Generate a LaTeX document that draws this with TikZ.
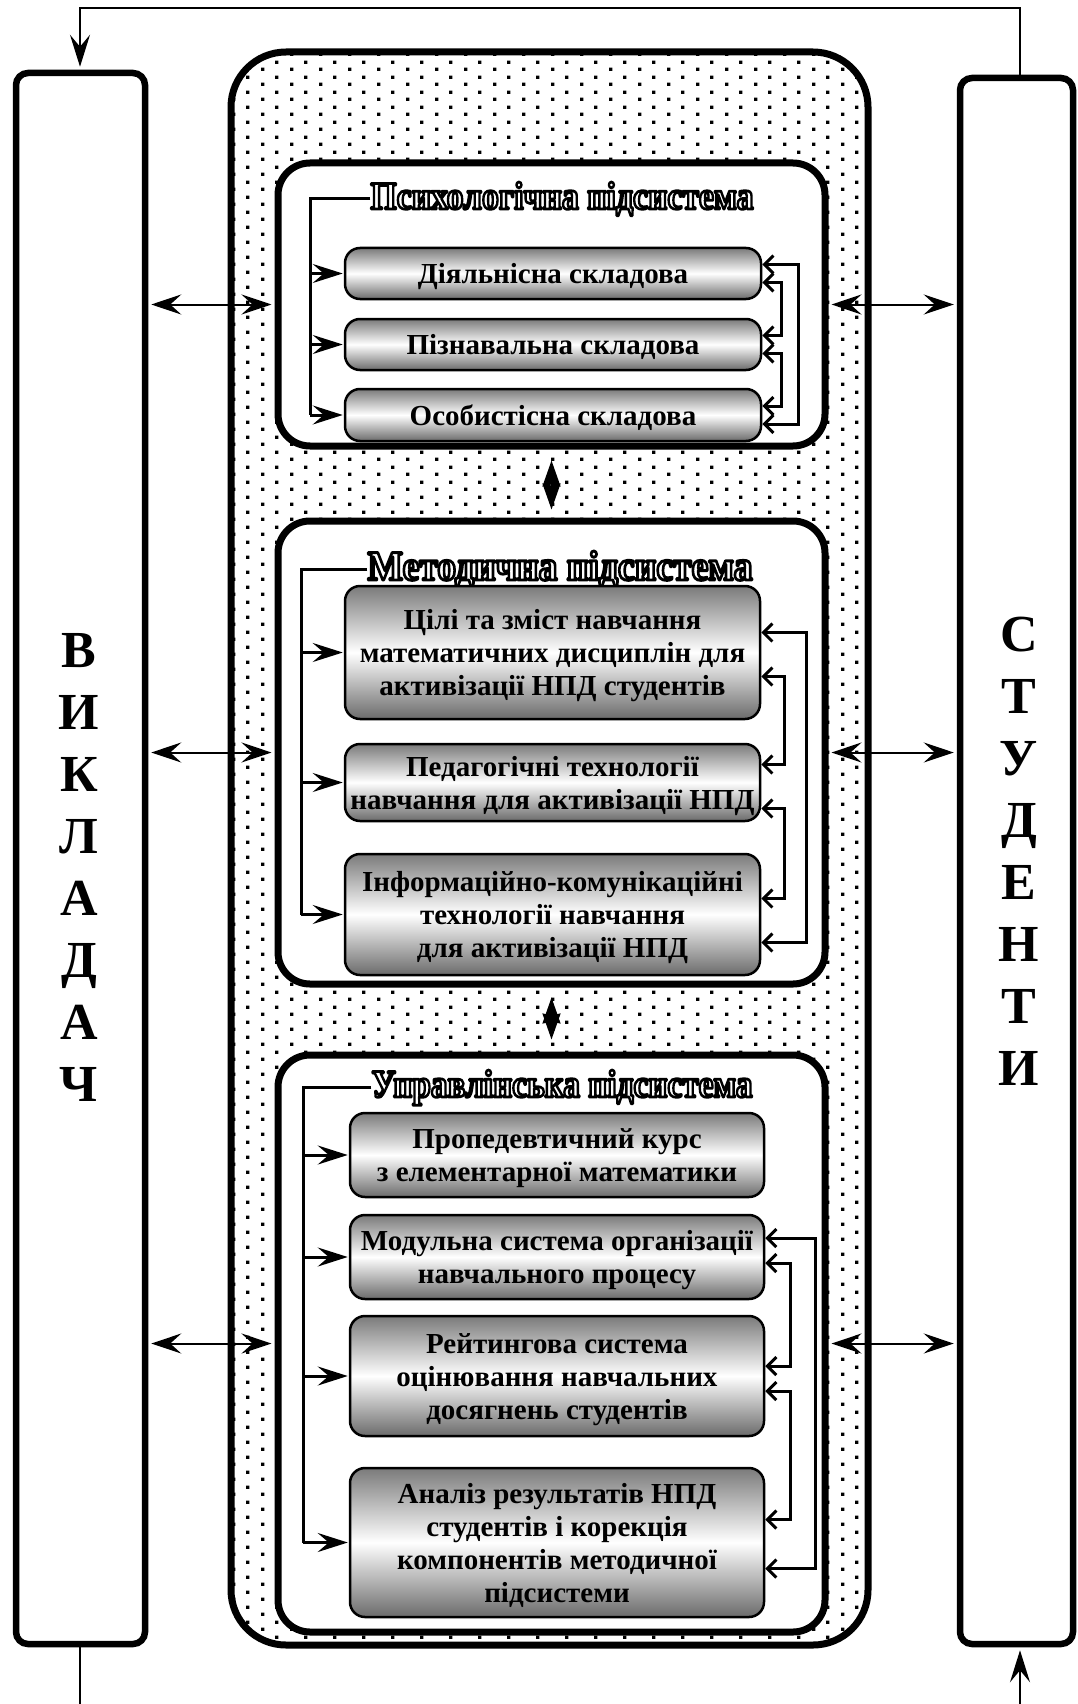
\documentclass[tikz,border=0pt]{standalone}
\usepackage{fontspec}
\setmainfont{Liberation Serif}
\usetikzlibrary{arrows.meta,patterns,calc}

% staggered grid of small square dots
\pgfdeclarepatternformonly{stagdots}{\pgfqpoint{0pt}{0pt}}{\pgfqpoint{29pt}{14.5pt}}{\pgfqpoint{29pt}{14.5pt}}{%
  \pgfpathrectangle{\pgfqpoint{0pt}{0pt}}{\pgfqpoint{3.4pt}{3.6pt}}%
  \pgfpathrectangle{\pgfqpoint{14.5pt}{7.25pt}}{\pgfqpoint{3.4pt}{3.6pt}}%
  \pgfusepath{fill}}

% outlined lettering: white fill, black stroke
\newcommand\hollowtext[1]{{\color{white}%
  \special{pdf:literal direct 0 G 2 Tr 2.8 w 1 j}#1\special{pdf:literal direct 0 Tr}}}

\begin{document}
\begin{tikzpicture}[x=1pt,y=-1pt,
  tall/.style={draw, line width=6.5pt, rounded corners=12pt, inner sep=0pt},
  core/.style={draw, line width=7pt, rounded corners=55pt, pattern=stagdots, inner sep=0pt},
  frame/.style={draw, fill=white, line width=7pt, rounded corners=32pt, inner sep=0pt},
  cell/.style={draw, line width=2.5pt, rounded corners=15pt,
    top color=black!52, bottom color=black!58, middle color=white,
    inner sep=0pt, align=center, text depth=0pt, font=\fontsize{29}{33}\selectfont\bfseries},
  letters/.style={inner sep=0pt, align=center, font=\fontsize{52}{62}\selectfont\bfseries},
  heading/.style={inner sep=0pt, anchor=base, font=\fontsize{40}{44}\selectfont\bfseries},
  dbl/.style={line width=2pt,
    {Stealth[length=30pt,width=20pt,inset=11pt]}-{Stealth[length=30pt,width=20pt,inset=11pt]},
    shorten <=3pt, shorten >=3pt},
  brk/.style={line width=3pt},
  brkarrow/.style={line width=3pt, -{Stealth[length=30pt,width=19pt,inset=11pt]}, shorten >=1pt},
  fb/.style={line width=3pt,
    {Straight Barb[length=9pt,width=18pt]}-{Straight Barb[length=9pt,width=18pt]}},
  diam/.style={line width=2pt,
    {Stealth[length=26pt,width=18pt,inset=2pt]}-{Stealth[length=26pt,width=18pt,inset=2pt]}},
  loopline/.style={line width=2pt},
  looptip/.style={-{Stealth[length=32pt,width=20pt,inset=12pt]}}
]
\useasboundingbox (0,0) rectangle (1078,1704);

% side columns
\node[tall, minimum width=129pt, minimum height=1571pt] (teach) at (80.5,858.5) {};
\node[tall, minimum width=113pt, minimum height=1566pt] (stud) at (1016.5,861) {};
\node[letters] (teachtxt) at (79,867) {В\\И\\К\\Л\\А\\Д\\А\\Ч};
\node[letters] (studtxt) at (1019,851) {С\\Т\\У\\Д\\Е\\Н\\Т\\И};

% central dotted block and its three subsystems
\node[core, minimum width=637pt, minimum height=1593pt] (core) at (549.5,848.5) {};
\node[frame, minimum width=547pt, minimum height=283pt] (psych) at (551.5,304.5) {};
\node[frame, minimum width=547pt, minimum height=463pt] (meth) at (551.5,752.5) {};
\node[frame, minimum width=547pt, minimum height=577pt] (mgmt) at (551.5,1343.5) {};

% headings
\node[heading] (ptitle) at (562,209) {\resizebox{383pt}{27pt}{\hollowtext{Психологічна підсистема}}};
\node[heading] (mtitle) at (560,580) {\resizebox{385pt}{29pt}{\hollowtext{Методична підсистема}}};
\node[heading] (gtitle) at (562,1097) {\resizebox{381pt}{27pt}{\hollowtext{Управлінська підсистема}}};

% psychological components
\node[cell, minimum width=416pt, minimum height=51pt] (pb1) at (553,273.5) {Діяльнісна складова};
\node[cell, minimum width=416pt, minimum height=51pt] (pb2) at (553,344.5) {Пізнавальна складова};
\node[cell, minimum width=416pt, minimum height=52pt] (pb3) at (553,415) {Особистісна складова};

% methodical components
\node[cell, minimum width=415pt, minimum height=133pt] (mb1) at (552.5,652.5)
  {Цілі та зміст навчання\\математичних дисциплін для\\активізації НПД студентів};
\node[cell, minimum width=415pt, minimum height=77pt] (mb2) at (552.5,782.5)
  {Педагогічні технології\\навчання для активізації НПД};
\node[cell, minimum width=415pt, minimum height=121pt] (mb3) at (552.5,914.5)
  {Інформаційно-комунікаційні\\технології навчання\\для активізації НПД};

% management components
\node[cell, minimum width=414pt, minimum height=84pt] (gb1) at (557,1155)
  {Пропедевтичний курс\\з елементарної математики};
\node[cell, minimum width=414pt, minimum height=84pt] (gb2) at (557,1257)
  {Модульна система організації\\навчального процесу};
\node[cell, minimum width=414pt, minimum height=120pt] (gb3) at (557,1376)
  {Рейтингова система\\оцінювання навчальних\\досягнень студентів};
\node[cell, minimum width=414pt, minimum height=149pt] (gb4) at (557,1542.5)
  {Аналіз результатів НПД\\студентів і корекція\\компонентів методичної\\підсистеми};

% helper coordinates
\coordinate (lx) at (80,0);
\coordinate (rx) at (1020,0);
\coordinate (topy) at (0,8);
\coordinate (boty) at (0,1704);
\coordinate (pbx) at (310,0);
\coordinate (mbx) at (301,0);
\coordinate (gbx) at (303,0);

% teacher / students links
\foreach \s in {psych,meth,mgmt}{
  \draw[dbl] (teach.east |- \s.west) -- (\s.west);
  \draw[dbl] (\s.east) -- (stud.west |- \s.east);
}

% links between subsystems
\draw[diam, shorten <=11pt, shorten >=8pt] (psych.south) -- (meth.north);
\draw[diam, shorten <=10pt, shorten >=12pt] (meth.south) -- (mgmt.north);

% outer feedback loop
\draw[loopline, looptip, shorten >=3pt] (rx |- stud.north) |- (lx |- topy) -- (lx |- teach.north);
\draw[loopline] (lx |- teach.south) -- (lx |- boty);
\draw[loopline, looptip, shorten >=3pt] (rx |- boty) -- (rx |- stud.south);

% left-hand distribution brackets
\draw[brk] (ptitle.west) -| (pbx |- pb3.west);
\foreach \b in {pb1,pb2,pb3} \draw[brkarrow] (pbx |- \b.west) -- (\b.west);
\draw[brk] (mtitle.west) -| (mbx |- mb3.west);
\foreach \b in {mb1,mb2,mb3} \draw[brkarrow] (mbx |- \b.west) -- (\b.west);
\draw[brk] (gtitle.west) -| (gbx |- gb4.west);
\foreach \b in {gb1,gb2,gb3,gb4} \draw[brkarrow] (gbx |- \b.west) -- (\b.west);

% right-hand mutual links
\draw[fb] ($(pb1.east)+(0,-9)$) -- ++(36,0) |- ($(pb3.east)+(0,9)$);
\draw[fb] ($(pb1.east)+(0,9)$) -- ++(19,0) |- ($(pb2.east)+(0,-9)$);
\draw[fb] ($(pb2.east)+(0,9)$) -- ++(19,0) |- ($(pb3.east)+(0,-9)$);

\draw[fb] ($(mb1.east)+(0,-20)$) -- ++(45,0) |- ($(mb3.east)+(0,28)$);
\draw[fb] ($(mb1.east)+(0,24)$) -- ++(23,0) |- ($(mb2.east)+(0,-18)$);
\draw[fb] ($(mb2.east)+(0,26)$) -- ++(23,0) |- ($(mb3.east)+(0,-16)$);

\draw[fb] ($(gb2.east)+(0,-19)$) -- ++(50,0) |- ($(gb4.east)+(0,26)$);
\draw[fb] ($(gb2.east)+(0,6)$) -- ++(25,0) |- ($(gb3.east)+(0,-10)$);
\draw[fb] ($(gb3.east)+(0,15)$) -- ++(25,0) |- ($(gb4.east)+(0,-23)$);
\end{tikzpicture}
\end{document}
